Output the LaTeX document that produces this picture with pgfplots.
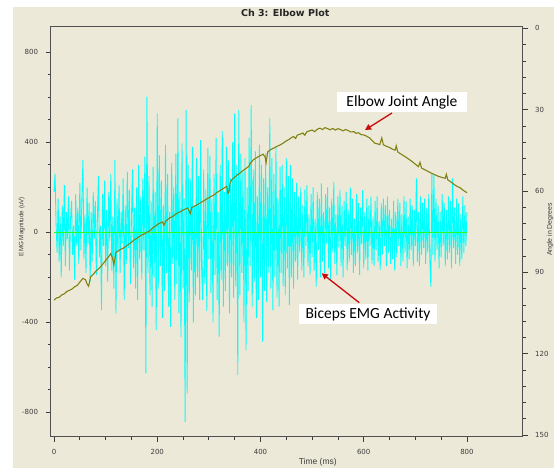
\documentclass[border=0pt]{standalone}
\usepackage{pgfplots}
\pgfplotsset{compat=1.18}
\usepackage{fontspec}
\setmainfont{DejaVu Sans}
\newfontfamily\lib{Liberation Sans}
\newfontfamily\calib{Carlito}
\usetikzlibrary{arrows.meta}

\definecolor{bg}{RGB}{236,233,216}
\definecolor{frame}{RGB}{80,80,80}
\definecolor{tickgray}{RGB}{60,60,60}
\definecolor{emg}{RGB}{0,255,255}
\definecolor{zero}{RGB}{40,255,40}
\definecolor{angle}{RGB}{130,130,20}
\definecolor{arrowred}{RGB}{200,10,10}

\pgfplotsset{
  chartbase/.style={
    at={(50.5bp,31.3bp)}, anchor=south west,
    scale only axis, width=472.2bp, height=410.4bp,
    xmin=-6.8, xmax=908,
    tick align=outside,
    major tick length=5bp, minor tick length=3bp,
    axis line style={line width=1bp, frame},
    every tick/.style={line width=0.8bp, tickgray},
    /pgf/number format/assume math mode=true,
    ticklabel style={font=\fontsize{7bp}{8bp}\selectfont, text=tickgray},
  }
}

\begin{document}
\begin{tikzpicture}[x=1bp,y=1bp]
\path[use as bounding box] (0,0) rectangle (554,468);
\fill[white] (0,0) rectangle (554,468);
\fill[bg] (13,0) rectangle (554,461);

% EMG magnitude, left axis
\begin{axis}[chartbase,
  ymin=-908, ymax=916,
  xtick={0,200,...,800}, minor x tick num=3,
  ytick={-800,-400,0,400,800}, minor y tick num=3,
  xtick pos=lower, ytick pos=left,
  xticklabel style={yshift=-4bp},
  yticklabel style={xshift=-4bp},
  title={Ch 3: Elbow Plot},
  title style={at={(axis description cs:0.497,1.019)}, anchor=center,
    font=\fontsize{9.5bp}{11bp}\selectfont\bfseries, text=black!85},
  xlabel={Time (ms)},
  xlabel style={at={(axis description cs:0.566,-0.0634)}, anchor=center,
    font=\lib\fontsize{8.5bp}{9bp}\selectfont, text=tickgray},
  ylabel={EMG Magnitude (uV)},
  ylabel style={at={(axis description cs:-0.061,0.512)}, anchor=center,
    font=\lib\fontsize{6.3bp}{7bp}\selectfont, text=tickgray},
]
\addplot[emg, line width=0.85bp] coordinates {
(0,180)(2,262)(4,40)(6,-90)(8,150)(10,-130)(12,70)(14,-200)(16,120)(18,-60)
(20,210)(22,-150)(24,90)(26,-30)(28,160)(30,-170)(32,60)(34,140)(36,-100)(38,30)
(40,-210)(42,170)(44,-60)(46,110)(48,-140)(50,220)(52,-80)(54,150)(56,322)(58,-120)
(60,80)(62,-180)(64,200)(66,-50)(68,130)(70,-220)(72,90)(74,-130)(76,180)(78,-30)
(80,140)(82,-190)(84,60)(86,250)(88,-110)(90,30)(92,-345)(94,170)(96,-60)(98,230)
(100,-150)(102,100)(104,-220)(106,180)(108,-40)(110,260)(112,-170)(114,70)(116,-250)(118,322)
(120,-360)(122,150)(124,-90)(126,210)(128,-180)(130,90)(132,-50)(134,240)(136,-300)(138,120)
(140,-140)(142,270)(144,-70)(146,190)(148,-230)(150,60)(152,280)(154,-160)(156,110)(158,-250)
(160,200)(162,-300)(164,300)(166,-120)(168,160)(170,-210)(172,240)(174,-80)(176,337)(178,-627)
(180,603)(182,-180)(184,250)(186,-280)(188,140)(190,-330)(192,290)(194,-200)(196,180)(198,-434)
(200,529)(202,-250)(204,344)(206,-150)(208,230)(210,-380)(212,120)(214,-260)(216,390)(218,-180)
(220,260)(222,-330)(224,90)(226,-420)(228,310)(230,-140)(232,200)(234,-300)(236,350)(238,-230)
(240,507)(242,-360)(244,180)(246,-464)(248,396)(250,-250)(252,150)(254,-842)(256,544)(258,-716)
(260,300)(262,-310)(264,240)(266,-170)(268,380)(270,-400)(272,120)(274,-280)(276,330)(278,-200)
(280,250)(282,-300)(284,410)(286,-160)(288,-300)(290,280)(292,-230)(294,190)(296,-350)(298,373)
(300,-120)(302,340)(304,-270)(306,150)(308,-400)(310,260)(312,-190)(314,420)(316,-300)(318,90)
(320,-464)(322,300)(324,-210)(326,450)(328,-330)(330,180)(332,-260)(334,380)(336,-150)(338,320)
(340,-360)(342,240)(344,-200)(346,400)(348,-290)(350,529)(352,-240)(354,300)(356,-634)(358,544)
(360,-280)(362,350)(364,-180)(366,270)(368,-400)(370,330)(372,-523)(374,200)(376,-260)(378,420)
(380,-150)(382,566)(384,-330)(386,280)(388,-220)(390,360)(392,-380)(394,160)(396,-300)(398,390)
(400,-200)(402,300)(404,-486)(406,240)(408,-260)(410,350)(412,-310)(414,200)(416,-180)(418,507)
(420,-250)(422,330)(424,-345)(426,260)(428,-200)(430,380)(432,-290)(434,150)(436,-330)(438,290)
(440,-180)(442,300)(444,-240)(446,200)(448,-280)(450,330)(452,-160)(454,250)(456,-323)(458,300)
(460,-200)(462,240)(464,-250)(466,180)(468,-130)(470,220)(472,-210)(474,160)(476,-90)(478,200)
(480,-170)(482,120)(484,-200)(486,190)(488,-60)(490,210)(492,-150)(494,80)(496,-190)(498,170)
(500,-110)(502,200)(504,-170)(506,60)(508,-241)(510,180)(512,-80)(514,150)(516,-200)(518,218)
(520,-130)(522,90)(524,-180)(526,170)(528,-50)(530,200)(532,-160)(534,110)(536,-212)(538,150)
(540,-90)(542,225)(544,-140)(546,80)(548,-190)(550,160)(552,-70)(554,190)(556,-150)(558,120)
(560,-200)(562,140)(564,-60)(566,180)(568,-170)(570,100)(572,-130)(574,200)(576,-100)(578,150)
(580,-180)(582,60)(584,-150)(586,170)(588,-90)(590,130)(592,-190)(594,110)(596,-50)(598,188)
(600,-160)(602,90)(604,-120)(606,150)(608,-170)(610,120)(612,-60)(614,160)(616,-140)(618,70)
(620,-150)(622,140)(624,-80)(626,160)(628,-130)(630,50)(632,-167)(634,130)(636,-100)(638,150)
(640,-60)(642,120)(644,-150)(646,159)(648,-90)(650,100)(652,-140)(654,60)(656,-120)(658,140)
(660,-170)(662,90)(664,-110)(666,150)(668,-60)(670,130)(672,-150)(674,80)(676,-130)(678,160)
(680,-90)(682,140)(684,-160)(686,70)(688,-120)(690,150)(692,-80)(694,120)(696,-150)(698,100)
(700,-60)(702,240)(704,-130)(706,90)(708,-150)(710,160)(712,-100)(714,130)(716,-70)(718,150)
(720,-140)(722,110)(724,-90)(726,170)(728,-120)(730,-241)(732,262)(734,-100)(736,255)(738,-130)
(740,150)(742,-80)(744,120)(746,-160)(748,90)(750,-110)(752,170)(754,-60)(756,130)(758,-150)
(760,100)(762,-120)(764,160)(766,-90)(768,140)(770,-160)(772,240)(774,-70)(776,110)(778,-140)
(780,150)(782,-100)(784,130)(786,-150)(788,80)(790,-120)(792,160)(794,-90)(796,120)(798,-60)
(800,90)
};
\addplot[zero, line width=0.9bp] coordinates {(0,0) (800,0)};
\end{axis}

% elbow angle, right axis (reversed)
\begin{axis}[chartbase,
  ymin=-0.77, ymax=150.6, y dir=reverse,
  axis x line=none, axis y line*=right,
  ytick={0,30,...,150}, minor y tick num=4,
  ytick pos=right,
  yticklabel style={xshift=4bp},
  ylabel={Angle in Degrees},
  ylabel style={at={(axis description cs:1.0578,0.505)}, anchor=center, rotate=0,
    font=\lib\fontsize{6.9bp}{7.5bp}\selectfont, text=tickgray},
]
\addplot[angle, line width=1.1bp] coordinates {
(0,100.2)(5,99.4)(10,99.2)(15,98.3)(20,97.9)(25,97.0)(30,96.6)(35,96.1)(40,95.3)(45,94.8)
(50,93.6)(56,92.2)(61,92.7)(64,94.2)(67,95.1)(71,91.6)(75,90.9)(80,89.8)(85,88.9)(90,88.0)
(95,86.8)(100,85.6)(105,84.4)(110,83.1)(113,84.5)(116,87.2)(120,82.6)(125,82.0)(130,81.4)(135,81.0)
(139,80.4)(145,79.6)(150,78.9)(155,78.0)(160,77.5)(165,76.8)(170,76.2)(175,75.8)(180,75.2)(185,74.8)
(190,73.8)(195,73.1)(200,72.4)(205,71.8)(210,71.4)(213,72.6)(216,71.2)(220,70.5)(225,69.8)(230,69.4)
(235,68.6)(240,68.0)(245,67.6)(250,67.0)(255,66.6)(259,66.2)(262,67.4)(264,68.3)(267,66.0)(270,65.8)
(277,65.1)(283,64.4)(290,63.6)(295,63.0)(300,62.5)(305,61.9)(310,61.4)(315,60.6)(320,60.0)(325,59.4)
(330,58.8)(335,58.3)(337,60.9)(339,60.5)(341,57.0)(344,55.9)(350,54.9)(355,54.1)(360,53.4)(365,52.6)
(370,51.9)(377,51.0)(381,49.6)(386,48.5)(390,48.0)(395,47.4)(400,46.9)(405,46.4)(409,47.5)(411,49.4)
(414,45.6)(418,44.9)(423,44.4)(428,43.9)(433,43.4)(438,43.0)(444,42.3)(450,41.5)(455,41.0)(460,40.3)
(464,39.9)(468,40.6)(471,39.4)(477,39.0)(482,38.6)(486,39.4)(490,38.1)(495,37.8)(500,37.5)(505,38.1)
(510,37.2)(515,36.8)(520,37.3)(525,36.6)(529,36.9)(535,37.4)(540,36.9)(545,37.5)(550,37.0)(555,37.3)
(560,37.8)(565,37.3)(570,37.7)(575,38.2)(581,38.1)(585,38.7)(590,38.5)(595,39.2)(600,39.3)(606,39.8)
(612,40.5)(617,41.5)(622,42.4)(627,42.6)(631,42.9)(635,40.4)(638,42.9)(644,43.5)(650,43.9)(655,44.5)
(661,44.9)(663,43.3)(666,45.6)(670,46.1)(675,46.7)(680,47.3)(687,48.2)(693,49.0)(700,50.1)(706,51.0)
(709,49.4)(712,51.5)(716,51.9)(720,52.3)(726,52.9)(732,53.5)(738,54.0)(745,54.6)(752,55.0)(758,55.3)
(760,53.8)(763,55.9)(768,56.5)(772,57.1)(777,57.8)(782,58.4)(786,58.7)(790,59.3)(795,60.0)(800,60.6)
};
\end{axis}

% annotations
\node[fill=white, inner sep=0pt, minimum width=130bp, minimum height=20bp,
  font=\calib\fontsize{15.5bp}{17bp}\selectfont] at (402,366) {Elbow Joint Angle};
\draw[arrowred, line width=1.3bp, -{Triangle[length=6bp,width=6bp]}] (392,355) -- (365,338);
\node[fill=white, inner sep=0pt, minimum width=138bp, minimum height=20bp,
  font=\calib\fontsize{15.5bp}{17bp}\selectfont] at (368,154) {Biceps EMG Activity};
\draw[arrowred, line width=1.3bp, -{Triangle[length=6bp,width=6bp]}] (359.3,165.3) -- (321.7,194.7);
\end{tikzpicture}
\end{document}
